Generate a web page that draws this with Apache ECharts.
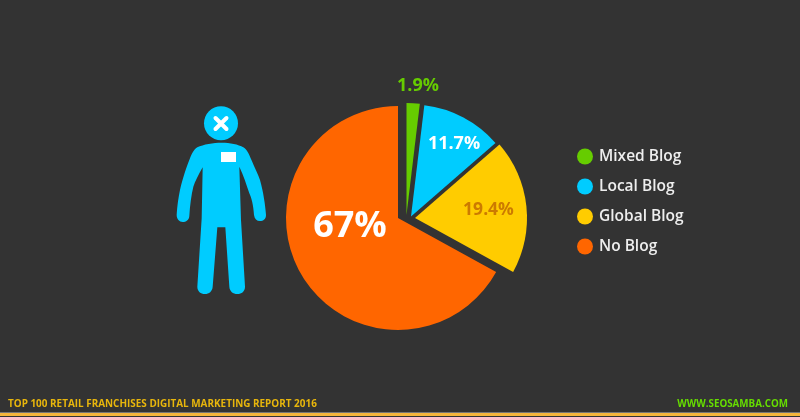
<!DOCTYPE html>
<html><head><meta charset="utf-8">
<style>html,body{margin:0;padding:0;background:#333}#c{width:800px;height:417px}</style>
<script src="https://cdn.jsdelivr.net/npm/echarts@6/dist/echarts.min.js"></script>
</head><body><div id="c"></div>
<script>
const categories = ['Mixed Blog','Local Blog','Global Blog','No Blog'];
const values = [1.9,11.7,19.4,67];
const colors = ['#66cc00','#00ccff','#ffcc00','#ff6600'];
const labelColors = ['#66cc00','#ffffff','#cc7a00','#ffffff'];
const labelSizes = [18,18,17.5,36];
const centers = [[406.5,215],[411,216.5],[415,218],[398,218]];
const labelPositions = [[418,86],[454,144],[488.5,210],[350,227]];
const footerLeft = 'TOP 100 RETAIL FRANCHISES DIGITAL MARKETING REPORT 2016';
const footerRight = 'WWW.SEOSAMBA.COM';

const total = values.reduce((a,b)=>a+b,0);
let acc = 0;
const series = values.map((v,i)=>{
  const start = 90 - acc/total*360;
  acc += v;
  const end = 90 - acc/total*360;
  return {
    type:'pie', name:categories[i], center:centers[i], radius:[0,112],
    startAngle:start, endAngle:end, clockwise:true, silent:true, animation:false,
    itemStyle:{color:colors[i]},
    data:[{name:categories[i],value:v}],
    label:{show:true,position:'inside',formatter:p=>p.value+'%',color:labelColors[i],
      fontFamily:'Open Sans',fontWeight:700,fontSize:labelSizes[i]},
    labelLine:{show:false},
    labelLayout:{x:labelPositions[i][0],y:labelPositions[i][1],align:'center',verticalAlign:'middle'}
  };
});
const personPath = 'M185 158 C210 158 235 163 250 172 C262 180 268 195 272 205 C285 235 295 255 300 270 C310 305 316 345 318 375 C318 387 310 393 300 393 C290 393 284 387 282 375 C280 345 275 325 268 310 C260 285 250 255 238 230 L243 390 L255 590 C255 604 245 612 232 612 C219 612 209 604 208 590 L196 412 L172 412 L158 590 C157 604 147 612 135 612 C122 612 112 604 112 590 L125 385 L128 232 C115 255 105 275 100 290 C94 315 90 345 88 378 C87 390 78 396 68 396 C58 396 50 387 50 375 C52 345 55 325 60 300 C68 265 80 230 90 205 C94 195 100 180 112 172 C130 163 160 158 185 158 Z';
series.push({
  type:'custom', coordinateSystem:'none', silent:true, data:[[0]],
  renderItem:()=>({type:'path',shape:{pathData:personPath,layout:'cover',x:176.67,y:142.67,width:89.33,height:151.33},style:{fill:'#00ccff'}})
});
const chart = echarts.init(document.getElementById('c'),null,{renderer:'canvas'});
chart.setOption({
  backgroundColor:'#333333',
  animation:false,
  legend:{orient:'vertical',left:572,top:143.5,itemWidth:16,itemHeight:16,itemGap:14,icon:'circle',
    data:categories,selectedMode:false,
    textStyle:{color:'#eeeeee',fontFamily:'Open Sans',fontWeight:600,fontSize:15.5,padding:[0,0,0,1]}},
  series,
  graphic:[
    {type:'circle',shape:{cx:221,cy:123.3,r:17},style:{fill:'#00ccff'}},
    {type:'line',z:10,shape:{x1:215.5,y1:118,x2:226.5,y2:129},style:{stroke:'#fff',lineWidth:4,lineCap:'round'}},
    {type:'line',z:10,shape:{x1:226.5,y1:118,x2:215.5,y2:129},style:{stroke:'#fff',lineWidth:4,lineCap:'round'}},
    {type:'rect',z:10,shape:{x:221,y:152,width:15,height:10},style:{fill:'#fff'}},
    {type:'rect',shape:{x:0,y:412,width:800,height:1},style:{fill:'#777'}},
    {type:'rect',shape:{x:0,y:413,width:800,height:3},style:{fill:'#f5b63c'}},
    {type:'text',x:8,y:404.5,style:{text:footerLeft,fill:'#e8b60c',font:'700 9.93px "Open Sans"',textVerticalAlign:'middle'}},
    {type:'text',x:788,y:404.5,style:{text:footerRight,fill:'#66dd00',font:'700 9.8px "Open Sans"',textAlign:'right',textVerticalAlign:'middle'}}
  ]
});
</script></body></html>
